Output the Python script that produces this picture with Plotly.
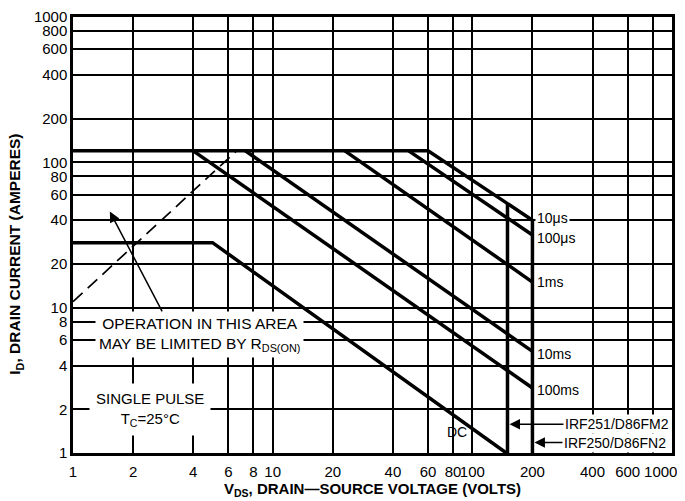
import math
import plotly.graph_objects as go

# ---- data ----
v_10us = [1, 60, 200]
i_10us = [120, 120, 40]
v_100us = [48, 200]
i_100us = [120, 31.6]
v_1ms = [23, 200]
i_1ms = [120, 15]
v_10ms = [7.3, 200]
i_10ms = [120, 5]
v_100ms = [4, 200]
i_100ms = [120, 2.8]
v_dc = [1, 5, 148]
i_dc = [28, 28, 1]
v_rds = [1, 6.6]
i_rds = [11, 120]
v_irf251 = [150, 150]
i_irf251 = [1, 52]
v_irf250 = [200, 200]
i_irf250 = [1, 40]

pulse_labels = ["10\u03bcs", "100\u03bcs", "1ms", "10ms", "100ms"]
pulse_ends = [i_10us[-1], i_100us[-1], i_1ms[-1], i_10ms[-1], i_100ms[-1]]
pulse_yshift = [2, -3, 0, -3, -2]

x_ticks = [1, 2, 4, 6, 8, 10, 20, 40, 60, 80, 100, 200, 400, 600, 800, 1000]
x_ticktext = ["1", "2", "4", "6", "8", "10", "20", "40", "60", "80", "100", "200",
              "400", "600", "", "1000\u2002\u2002\u2002"]
y_ticks = [1, 2, 4, 6, 8, 10, 20, 40, 60, 80, 100, 200, 400, 600, 800, 1000]
y_ticktext = [str(v) for v in y_ticks]

FONT = "Liberation Sans, Arial, sans-serif"
L = math.log10

fig = go.Figure()
thick = dict(color="black", width=3.5)
for vx, iy in [(v_10us, i_10us), (v_100us, i_100us), (v_1ms, i_1ms),
               (v_10ms, i_10ms), (v_100ms, i_100ms), (v_dc, i_dc),
               (v_irf251, i_irf251), (v_irf250, i_irf250)]:
    fig.add_trace(go.Scatter(x=vx, y=iy, mode="lines", line=thick,
                             showlegend=False, hoverinfo="skip"))
fig.add_trace(go.Scatter(x=v_rds, y=i_rds, mode="lines",
                         line=dict(color="black", width=1.7, dash="13px,7px"),
                         showlegend=False, hoverinfo="skip"))

ann = []
for lab, ev, ys in zip(pulse_labels, pulse_ends, pulse_yshift):
    ann.append(dict(x=L(200), y=L(ev), xref="x", yref="y", text=lab, showarrow=False,
                    xanchor="left", yanchor="middle", xshift=3, yshift=ys,
                    font=dict(family=FONT, size=14, color="black"),
                    bgcolor="white", borderpad=1))
ann.append(dict(x=L(84), y=L(1.4), xref="x", yref="y", text="DC", showarrow=False,
                font=dict(family=FONT, size=14, color="black")))
ann.append(dict(x=L(4.32), y=L(6.55), xref="x", yref="y",
                text="OPERATION IN THIS AREA<br>MAY BE LIMITED BY R<sub>DS(ON)</sub>",
                showarrow=False, align="center",
                font=dict(family=FONT, size=15.5, color="black"),
                bgcolor="white", borderpad=3))
ann.append(dict(x=L(2.43), y=L(2.0), xref="x", yref="y",
                text="SINGLE PULSE<br>T<sub>C</sub>=25\u00b0C",
                showarrow=False, align="center",
                font=dict(family=FONT, size=15, color="black"),
                bgcolor="white", borderpad=6))
ann.append(dict(x=L(1.53), y=L(45.8), xref="x", yref="y",
                axref="x", ayref="y", ax=L(2.82), ay=L(9.2), text="",
                showarrow=True, arrowhead=2, arrowsize=1.4, arrowwidth=1.5,
                arrowcolor="black"))
ann.append(dict(x=L(150), y=L(1.58), xref="x", yref="y", text="IRF251/D86FM2",
                showarrow=True, ax=56, ay=0, xanchor="left", yanchor="middle",
                arrowhead=2, arrowsize=1.4, arrowwidth=1.5, arrowcolor="black",
                standoff=2, font=dict(family=FONT, size=14, color="black"),
                bgcolor="white", borderpad=1))
ann.append(dict(x=L(200), y=L(1.18), xref="x", yref="y", text="IRF250/D86FN2",
                showarrow=True, ax=30, ay=0, xanchor="left", yanchor="middle",
                arrowhead=2, arrowsize=1.4, arrowwidth=1.5, arrowcolor="black",
                standoff=2, font=dict(family=FONT, size=14, color="black"),
                bgcolor="white", borderpad=1))
# y-axis title (placed as rotated text to match the reference position)
ann.append(dict(x=-0.095, y=0.455, xref="paper", yref="paper",
                text="<b>I<sub>D</sub>, DRAIN CURRENT (AMPERES)</b>", textangle=-90,
                showarrow=False, xanchor="center", yanchor="middle",
                font=dict(family=FONT, size=15.5, color="black")))

axis_common = dict(type="log", range=[0, 3], showgrid=True, gridcolor="black",
                   gridwidth=1.9, showline=True, linecolor="black", linewidth=2.5,
                   mirror=True, ticks="", zeroline=False, automargin=False,
                   tickfont=dict(family=FONT, size=15, color="black"))

# the page body adds an 8px offset, so the figure is sized to fit the window
fig.update_layout(
    width=677, height=493,
    margin=dict(l=65, r=13, t=9, b=48),
    paper_bgcolor="white", plot_bgcolor="white",
    xaxis=dict(**axis_common, tickvals=x_ticks, ticktext=x_ticktext,
               ticklabelstandoff=3, tickangle=0, ticklabeloverflow="allow",
               title=dict(text="<b>V<sub>DS</sub>, DRAIN\u2014SOURCE VOLTAGE (VOLTS)</b>",
                          font=dict(family=FONT, size=15, color="black"), standoff=5)),
    yaxis=dict(**axis_common, tickvals=y_ticks, ticktext=y_ticktext),
    annotations=ann,
    showlegend=False,
)

fig.write_html("out.html")
